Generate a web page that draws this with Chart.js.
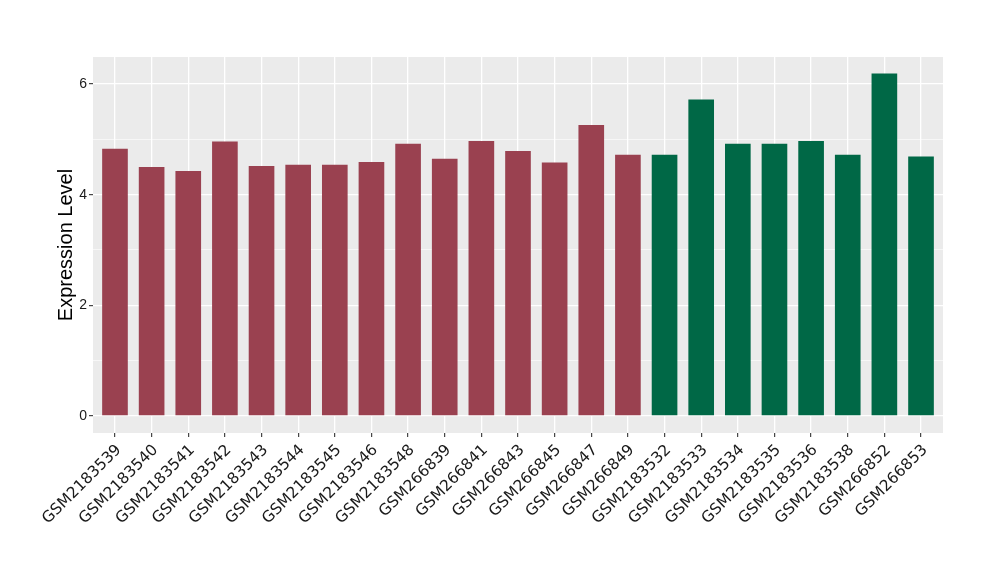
<!DOCTYPE html>
<html>
<head>
<meta charset="utf-8">
<script src="https://cdn.jsdelivr.net/npm/chart.js@4"></script>
<style>
  html, body { margin: 0; padding: 0; background: #ffffff; }
  #wrap { width: 1000px; height: 580px; }
</style>
</head>
<body>
<div id="wrap"><canvas id="c" width="1000" height="580"></canvas></div>
<script>
const samples = ["GSM2183539","GSM2183540","GSM2183541","GSM2183542","GSM2183543","GSM2183544","GSM2183545","GSM2183546","GSM2183548","GSM266839","GSM266841","GSM266843","GSM266845","GSM266847","GSM266849","GSM2183532","GSM2183533","GSM2183534","GSM2183535","GSM2183536","GSM2183538","GSM266852","GSM266853"];
const values = [4.83,4.50,4.43,4.96,4.52,4.54,4.54,4.59,4.92,4.65,4.97,4.79,4.58,5.26,4.72,4.72,5.72,4.92,4.92,4.97,4.72,6.19,4.69];
const groups = ["A","A","A","A","A","A","A","A","A","A","A","A","A","A","A","B","B","B","B","B","B","B","B"];
const yTicks = [0,1,2,3,4,5,6];
const yLabeled = [0,2,4,6];
const groupColors = { A: "#9A4150", B: "#006846" };

const FONT = "'Liberation Sans', Arial, Helvetica, sans-serif";
const XFONT = "'DejaVu Sans', sans-serif";

const panelBg = {
  id: 'panelBg',
  beforeDraw(chart) {
    const {ctx, chartArea: a} = chart;
    ctx.save();
    ctx.fillStyle = '#EBEBEB';
    ctx.fillRect(a.left, a.top, a.right - a.left, a.bottom - a.top);
    ctx.restore();
  }
};

new Chart(document.getElementById('c'), {
  type: 'bar',
  data: {
    datasets: [{
      data: values.map((v, i) => ({ x: i, y: v })),
      backgroundColor: groups.map(g => groupColors[g]),
      borderWidth: 0,
      barPercentage: 0.7,
      categoryPercentage: 1.0
    }]
  },
  options: {
    responsive: false,
    devicePixelRatio: 1,
    animation: false,
    layout: { padding: { left: 0, top: 57, right: 57, bottom: 0 } },
    plugins: { legend: { display: false }, tooltip: { enabled: false } },
    scales: {
      x: {
        type: 'linear',
        min: -0.6,
        max: samples.length - 1 + 0.6,
        offset: false,
        afterBuildTicks(scale) { scale.ticks = samples.map((s, i) => ({ value: i })); },
        afterFit(scale) { scale.height = 147; },
        border: { display: false },
        grid: {
          offset: false,
          color: '#FFFFFF',
          lineWidth: 1.3,
          drawTicks: true,
          tickLength: 4,
          tickColor: '#333333',
          tickWidth: 1.1
        },
        ticks: {
          autoSkip: false,
          minRotation: 45,
          maxRotation: 45,
          padding: 4,
          labelOffset: 4,
          color: '#1a1a1a',
          font: { family: XFONT, size: 15.5 },
          callback: (v) => samples[v]
        }
      },
      y: {
        type: 'linear',
        min: -0.31,
        max: 6.49,
        afterBuildTicks(scale) { scale.ticks = yTicks.map(v => ({ value: v })); },
        afterFit(scale) { scale.width = 93; },
        border: { display: false },
        grid: {
          color: '#FFFFFF',
          lineWidth: (ctx) => (ctx.tick && yLabeled.includes(ctx.tick.value)) ? 1.3 : 0.6,
          drawTicks: true,
          tickLength: 4,
          tickColor: (ctx) => (ctx.tick && yLabeled.includes(ctx.tick.value)) ? '#333333' : 'rgba(0,0,0,0)',
          tickWidth: 1.1
        },
        ticks: {
          padding: 2,
          color: '#1a1a1a',
          font: { family: FONT, size: 14 },
          callback: (v) => yLabeled.includes(v) ? String(v) : ''
        },
        title: {
          display: true,
          text: 'Expression Level',
          color: '#000000',
          font: { family: FONT, size: 20 },
          padding: { top: 54, bottom: 0 }
        }
      }
    }
  },
  plugins: [panelBg]
});
</script>
</body>
</html>
